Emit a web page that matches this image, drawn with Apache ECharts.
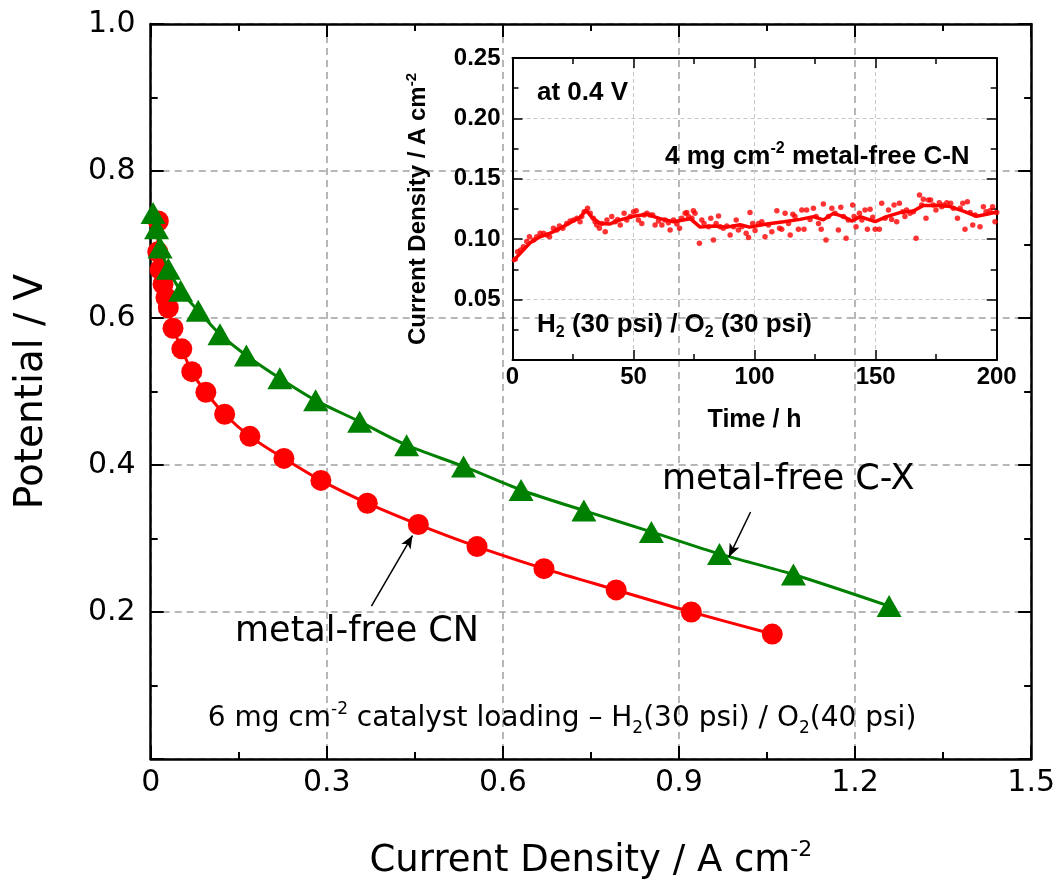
<!DOCTYPE html>
<html><head><meta charset="utf-8">
<script src="https://cdn.jsdelivr.net/npm/echarts@6/dist/echarts.min.js"></script>
<style>html,body{margin:0;padding:0;background:#fff}#c{width:1058px;height:888px}</style>
</head><body><div id="c"></div>
<script>
// ---- main polarization curves ----
const cnCurrent   = [0.013,0.012,0.016,0.021,0.026,0.030,0.038,0.053,0.070,0.094,0.126,0.169,0.227,0.290,0.369,0.456,0.556,0.670,0.793,0.921,1.059];
const cnPotential = [0.732,0.690,0.666,0.646,0.628,0.614,0.586,0.558,0.527,0.499,0.469,0.439,0.409,0.379,0.348,0.319,0.289,0.259,0.230,0.200,0.170];
const cxCurrent   = [0.004,0.010,0.016,0.030,0.051,0.081,0.118,0.163,0.220,0.281,0.356,0.436,0.533,0.631,0.738,0.853,0.969,1.095,1.258];
const cxPotential = [0.743,0.722,0.696,0.667,0.637,0.610,0.578,0.549,0.518,0.488,0.459,0.427,0.398,0.366,0.338,0.309,0.279,0.251,0.208];
// ---- inset: durability at 0.4 V (smoothed line) ----
const lineTime = [0,3.2,7.3,11.4,15.6,19.7,23.8,27.9,30.4,32.8,36.2,40.3,44.5,50,55.5,61,66.5,73.4,77.5,83,88.5,94,98,105,112,118.8,124.3,128.4,132.5,136.7,140.1,143.6,149.8,154.6,160,165.6,169.7,175.2,180.7,186.2,191.7,195.9,200];
const lineCurr = [0.0814,0.0883,0.097,0.102,0.105,0.109,0.1137,0.118,0.124,0.118,0.113,0.1126,0.116,0.119,0.1206,0.117,0.1145,0.117,0.110,0.111,0.110,0.112,0.110,0.1126,0.1145,0.1164,0.1187,0.116,0.1214,0.1187,0.115,0.1187,0.1145,0.1187,0.122,0.1233,0.128,0.128,0.127,0.1233,0.119,0.1206,0.1225];
// ---- inset: raw data points ----
const dotTime = [1.1,2.1,3.4,4.5,5.9,7.0,8.7,10.0,11.4,12.8,14.2,15.3,16.9,18.3,19.4,20.8,22.4,23.8,25.2,26.6,27.9,28.6,29.6,31.0,32.1,33.4,34.1,34.8,35.9,36.9,38.3,39.0,41.0,42.4,43.4,44.5,46.1,47.2,48.6,50.0,51.1,52.0,53.4,54.4,55.5,56.8,57.9,58.9,60.3,61.7,63.0,64.4,65.1,66.5,67.9,69.0,69.9,71.3,72.0,72.7,74.1,74.7,75.4,77.2,78.2,79.1,81.0,81.9,83.0,84.1,85.1,85.8,87.1,88.5,89.9,91.3,92.4,93.3,94.7,96.5,97.5,98.1,99.2,100.2,101.6,103.0,104.3,105.7,107.1,109.2,110.3,111.2,112.6,114.0,114.7,115.8,116.7,118.1,119.5,120.4,121.5,122.9,124.3,125.4,126.4,127.5,128.4,129.5,130.5,131.9,133.2,134.6,135.6,136.7,137.8,138.7,140.5,141.1,141.9,143.3,144.3,145.6,146.6,147.7,148.8,149.8,151.5,152.5,153.9,155.3,156.6,157.6,158.7,159.8,161.2,162.1,162.8,164.2,165.6,166.7,168.1,169.0,169.7,170.8,171.8,172.7,173.8,174.9,176.3,177.3,178.0,179.4,181.0,182.1,183.8,184.9,186.0,186.9,187.9,189.0,190.1,191.1,193.1,194.5,195.6,197.2,198.3,199.3,200];
const dotCurr = [0.0833,0.0897,0.0911,0.0938,0.098,0.1021,0.0993,0.1021,0.1049,0.1049,0.1035,0.1021,0.109,0.1076,0.1109,0.109,0.1131,0.1151,0.1159,0.1173,0.1145,0.1187,0.1228,0.1256,0.1214,0.1173,0.1145,0.1118,0.109,0.1131,0.1062,0.1159,0.1187,0.1145,0.1164,0.1118,0.1214,0.1159,0.1187,0.1228,0.1236,0.1159,0.1131,0.12,0.1214,0.12,0.12,0.1118,0.1151,0.1118,0.1159,0.1137,0.1076,0.1159,0.1126,0.109,0.1173,0.1214,0.122,0.1187,0.1173,0.1236,0.1214,0.0966,0.1159,0.1131,0.1104,0.1173,0.0993,0.1131,0.1192,0.1104,0.109,0.1109,0.1035,0.1104,0.1159,0.1076,0.1104,0.1049,0.1015,0.122,0.1131,0.1071,0.1131,0.1145,0.1021,0.1118,0.1062,0.1236,0.109,0.1082,0.1214,0.1131,0.1035,0.1206,0.1187,0.1082,0.1242,0.1082,0.1242,0.1164,0.1256,0.1187,0.1131,0.1082,0.1291,0.0993,0.1187,0.1256,0.1214,0.1076,0.1264,0.1187,0.1007,0.1159,0.1283,0.1187,0.1104,0.1214,0.1159,0.1242,0.1082,0.1247,0.1181,0.1082,0.1082,0.1297,0.1173,0.1242,0.1164,0.1283,0.1145,0.1297,0.1228,0.1187,0.1242,0.1214,0.1228,0.1007,0.1366,0.1283,0.133,0.1173,0.1325,0.1325,0.1283,0.1242,0.1302,0.1269,0.1283,0.1302,0.1297,0.1256,0.1173,0.1256,0.1297,0.1082,0.131,0.122,0.1118,0.12,0.1104,0.1269,0.1228,0.1236,0.1269,0.1145,0.122];
// ---- tick settings ----
const mainXTicks = {min:0, max:1.5, interval:0.3};
const mainYTicks = {min:0, max:1.0, interval:0.2};
const insetXTicks = {min:0, max:200, interval:50};
const insetYTicks = {min:0, max:0.25, interval:0.05};
// arrows (data coords)
const cnArrow = [[0.376,0.208],[0.446,0.304]];
const cxArrow = [[1.022,0.336],[0.985,0.275]];

const zip = (a,b) => a.map((v,i)=>[v,b[i]]);
const MF = 'DejaVu Sans';
const IF = 'Liberation Sans, Arial, sans-serif';

function frameAxis(o){
  return Object.assign({
    type:'value', axisLine:{show:true,onZero:false,lineStyle:{color:'#000',width:2.5}},
    axisTick:{show:true,inside:true,length:13,lineStyle:{color:'#000',width:2}},
    minorTick:{show:true,splitNumber:2,length:7,lineStyle:{color:'#000',width:2}},
    splitLine:{show:false}, axisLabel:{show:false}
  }, o);
}
function insetAxis(o){
  return Object.assign({
    type:'value', axisLine:{show:true,onZero:false,lineStyle:{color:'#000',width:2}},
    axisTick:{show:true,inside:true,length:10,lineStyle:{color:'#000',width:1.5}},
    minorTick:{show:true,splitNumber:2,length:6,lineStyle:{color:'#000',width:1.5}},
    splitLine:{show:false}, axisLabel:{show:false}
  }, o);
}
const mainSplit = {show:true,lineStyle:{color:'#a0a0a0',type:[7,5],width:1.5}};
const insetSplit = {show:true,lineStyle:{color:'#c8c8c8',type:[4,3],width:1}};

const option = {
  animation:false,
  backgroundColor:'#fff',
  grid:[
    {left:150.7, right:25, top:24, bottom:127},
    {left:512.5, right:61.3, top:58, bottom:528}
  ],
  xAxis:[
    frameAxis(Object.assign({gridIndex:0, position:'bottom', splitLine:mainSplit,
      axisLabel:{show:true,fontSize:30,fontFamily:MF,color:'#000',margin:9,
        formatter:v=> v===0?'0':v.toFixed(1)},
      name:'Current Density / A cm{sup|-2}', nameLocation:'middle', nameGap:80,
      nameTextStyle:{fontSize:37,fontFamily:MF,color:'#000',lineHeight:44,
        rich:{sup:{fontSize:22,fontFamily:MF,color:'#000',verticalAlign:'top',lineHeight:22}}}
    }, mainXTicks)),
    frameAxis(Object.assign({gridIndex:0, position:'top'}, mainXTicks)),
    insetAxis(Object.assign({gridIndex:1, position:'bottom', splitLine:insetSplit,
      axisLabel:{show:true,fontSize:24,fontWeight:'bold',fontFamily:IF,color:'#000',margin:5},
      name:'Time / h', nameLocation:'middle', nameGap:48,
      nameTextStyle:{fontSize:25,fontWeight:'bold',fontFamily:IF,color:'#000'}
    }, insetXTicks)),
    insetAxis(Object.assign({gridIndex:1, position:'top'}, insetXTicks))
  ],
  yAxis:[
    frameAxis(Object.assign({gridIndex:0, position:'left', splitLine:mainSplit,
      axisLabel:{show:true,fontSize:30,fontFamily:MF,color:'#000',margin:15,
        formatter:v=> v===0?'':v.toFixed(1)},
      name:'Potential / V', nameLocation:'middle', nameGap:99,
      nameTextStyle:{fontSize:39,fontFamily:MF,color:'#000'}
    }, mainYTicks)),
    frameAxis(Object.assign({gridIndex:0, position:'right'}, mainYTicks)),
    insetAxis(Object.assign({gridIndex:1, position:'left', splitLine:insetSplit,
      axisLabel:{show:true,fontSize:24,fontWeight:'bold',fontFamily:IF,color:'#000',margin:12,
        formatter:v=> v===0?'':v.toFixed(2)},
      name:'Current Density / A cm{sup|-2}', nameLocation:'middle', nameGap:80,
      nameTextStyle:{fontSize:24,fontWeight:'bold',fontFamily:IF,color:'#000',lineHeight:28,
        rich:{sup:{fontSize:15,fontWeight:'bold',fontFamily:IF,color:'#000',verticalAlign:'top',lineHeight:15}}}
    }, insetYTicks)),
    insetAxis(Object.assign({gridIndex:1, position:'right'}, insetYTicks))
  ],
  series:[
    {type:'line', name:'metal-free CN', xAxisIndex:0, yAxisIndex:0, data:zip(cnCurrent,cnPotential),
      smooth:0.3, symbol:'circle', symbolSize:21, itemStyle:{color:'#ff0000'},
      lineStyle:{color:'#ff0000',width:3}, z:3,
      markLine:{silent:true, symbol:['none','arrow'], symbolSize:[8,13], label:{show:false},
        lineStyle:{color:'#000',width:1.5,type:'solid'},
        data:[[{coord:cnArrow[0]},{coord:cnArrow[1]}],[{coord:cxArrow[0]},{coord:cxArrow[1]}]]}
    },
    {type:'line', name:'metal-free C-X', xAxisIndex:0, yAxisIndex:0, data:zip(cxCurrent,cxPotential),
      smooth:0.3, symbol:'triangle', symbolSize:[25,22], itemStyle:{color:'#008000'},
      lineStyle:{color:'#008000',width:3}, z:4},
    {type:'scatter', xAxisIndex:2, yAxisIndex:2, data:zip(dotTime,dotCurr),
      symbol:'circle', symbolSize:5.5, itemStyle:{color:'#ff0000'}, z:5},
    {type:'line', xAxisIndex:2, yAxisIndex:2, data:zip(lineTime,lineCurr),
      showSymbol:false, lineStyle:{color:'#ff0000',width:3.5}, z:6}
  ],
  graphic:[
    {type:'text', x:235, y:632, z:100, style:{text:'metal-free CN', fontSize:35, fontFamily:MF, fill:'#000', align:'left', verticalAlign:'middle'}},
    {type:'text', x:662, y:480, z:100, style:{text:'metal-free C-X', fontSize:35, fontFamily:MF, fill:'#000', align:'left', verticalAlign:'middle'}},
    {type:'text', x:562, y:719, z:100, style:{text:'6 mg cm{sup|-2} catalyst loading – H{sub|2}(30 psi) / O{sub|2}(40 psi)',
      fontSize:28, fontFamily:MF, fill:'#000', align:'center', verticalAlign:'middle', lineHeight:36,
      rich:{sup:{fontSize:17,fontFamily:MF,fill:'#000',verticalAlign:'top',lineHeight:17},
            sub:{fontSize:17,fontFamily:MF,fill:'#000',verticalAlign:'bottom',lineHeight:17}}}},
    {type:'text', x:537, y:93, z:100, style:{text:'at 0.4 V', fontSize:26, fontWeight:'bold', fontFamily:IF, fill:'#000', align:'left', verticalAlign:'middle'}},
    {type:'text', x:665, y:157, z:100, style:{text:'4 mg cm{sup|-2} metal-free C-N', fontSize:26, fontWeight:'bold', fontFamily:IF, fill:'#000', align:'left', verticalAlign:'middle', lineHeight:32,
      rich:{sup:{fontSize:16,fontWeight:'bold',fontFamily:IF,fill:'#000',verticalAlign:'top',lineHeight:16}}}},
    {type:'text', x:537, y:325, z:100, style:{text:'H{sub|2} (30 psi) / O{sub|2} (30 psi)', fontSize:26, fontWeight:'bold', fontFamily:IF, fill:'#000', align:'left', verticalAlign:'middle', lineHeight:32,
      rich:{sub:{fontSize:16,fontWeight:'bold',fontFamily:IF,fill:'#000',verticalAlign:'bottom',lineHeight:16}}}}
  ]
};
const chart = echarts.init(document.getElementById('c'), null, {renderer:'canvas'});
chart.setOption(option);
</script></body></html>
